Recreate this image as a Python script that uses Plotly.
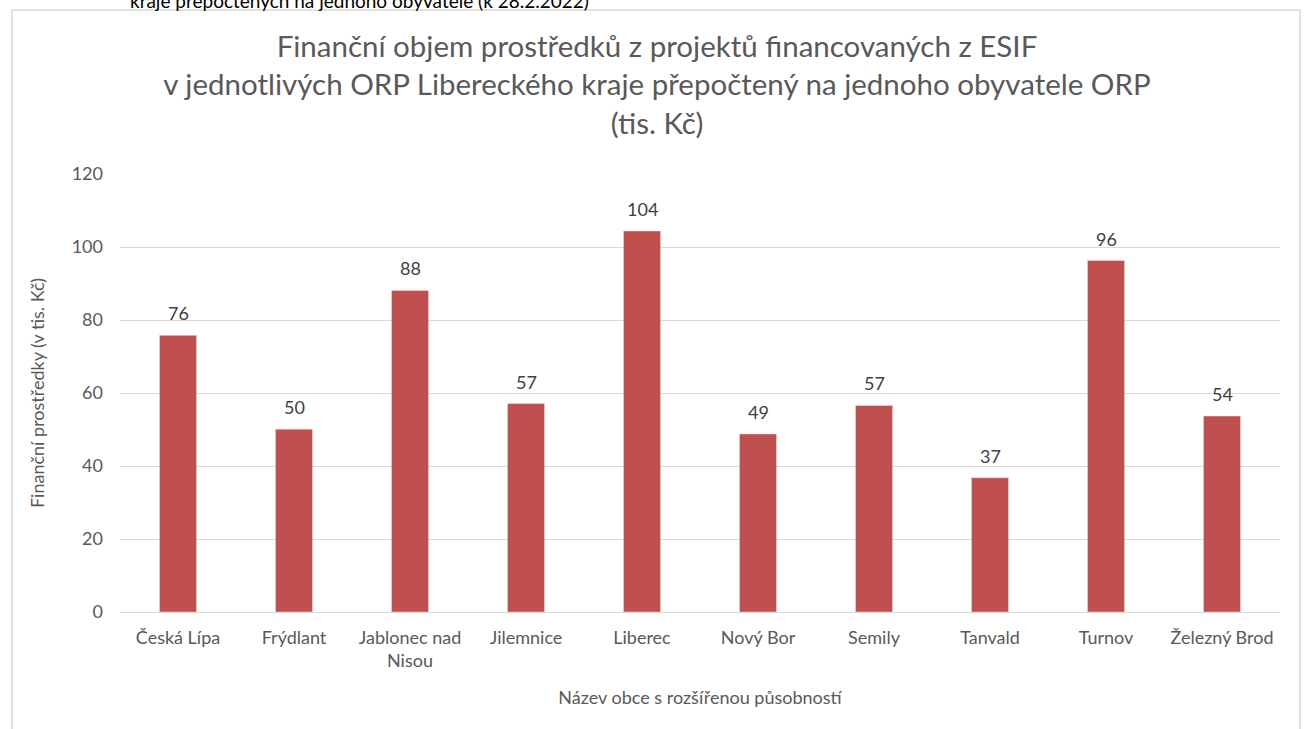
import plotly.graph_objects as go

obce = ["Česká Lípa", "Frýdlant", "Jablonec nad<br>Nisou", "Jilemnice", "Liberec",
        "Nový Bor", "Semily", "Tanvald", "Turnov", "Železný Brod"]
hodnoty = [75.8, 50.1, 88.1, 57.1, 104.4, 48.8, 56.6, 36.8, 96.3, 53.7]

font = "Lato, Open Sans, sans-serif"
gray = "#595959"

fig = go.Figure()
fig.add_trace(go.Bar(x=obce, y=hodnoty, marker_color="#C0504D"))

W, H = 1306, 729
l, r, t, b = 120, 26, 174, 117
pw, ph = W - l - r, H - t - b

def px(x):
    return (x - l) / pw

def py(y):
    return (H - b - y) / ph

labels = [dict(x=o, y=v, text=f"{v:.0f}", showarrow=False, yshift=22, yanchor="middle",
               font=dict(size=18, color="#404040", family=font))
          for o, v in zip(obce, hodnoty)]

# fragment of the surrounding document text, cut off at the top edge
labels.append(dict(
    text="kraje přepočtených na jednoho obyvatele (k 28.2.2022)",
    xref="paper", yref="paper", x=px(128), y=py(14), xanchor="left", yanchor="bottom",
    showarrow=False, font=dict(size=19, color="black", family=font),
))

fig.update_layout(
    width=W, height=H,
    margin=dict(l=l, r=r, t=t, b=b, autoexpand=False),
    paper_bgcolor="white", plot_bgcolor="white",
    font=dict(family=font, color=gray, size=18),
    showlegend=False,
    bargap=0.68,
    title=dict(
        text="Finanční objem prostředků z projektů financovaných z ESIF<br>"
             "v jednotlivých ORP Libereckého kraje přepočtený na jednoho obyvatele ORP<br>"
             "(tis. Kč)",
        x=657 / W, xanchor="center", y=1 - 57 / H, yanchor="top",
        font=dict(size=29.5, color=gray, family=font),
    ),
    xaxis=dict(
        title=dict(text="Název obce s rozšířenou působností", font=dict(size=18, color=gray), standoff=21),
        tickfont=dict(size=18, color=gray),
        showline=True, linecolor="#D9D9D9", linewidth=1,
        ticks="", showgrid=False, automargin=False, ticklabelstandoff=9,
    ),
    yaxis=dict(
        title=dict(text="Finanční prostředky (v tis. Kč)", font=dict(size=18, color=gray), standoff=22),
        range=[0, 120], dtick=20,
        tickfont=dict(size=18, color=gray),
        showgrid=True, gridcolor="#D9D9D9", gridwidth=1,
        zeroline=False, ticks="", ticklabelstandoff=16, automargin=False,
    ),
    shapes=[dict(
        type="rect", xref="paper", yref="paper",
        x0=px(12), x1=px(1300), y0=py(760), y1=py(10),
        line=dict(color="#D9D9D9", width=1.5), fillcolor="rgba(0,0,0,0)", layer="below",
    )],
    annotations=labels,
)

fig.write_html("out.html", config={"displayModeBar": False},
               post_script="document.body.style.margin='0';")
